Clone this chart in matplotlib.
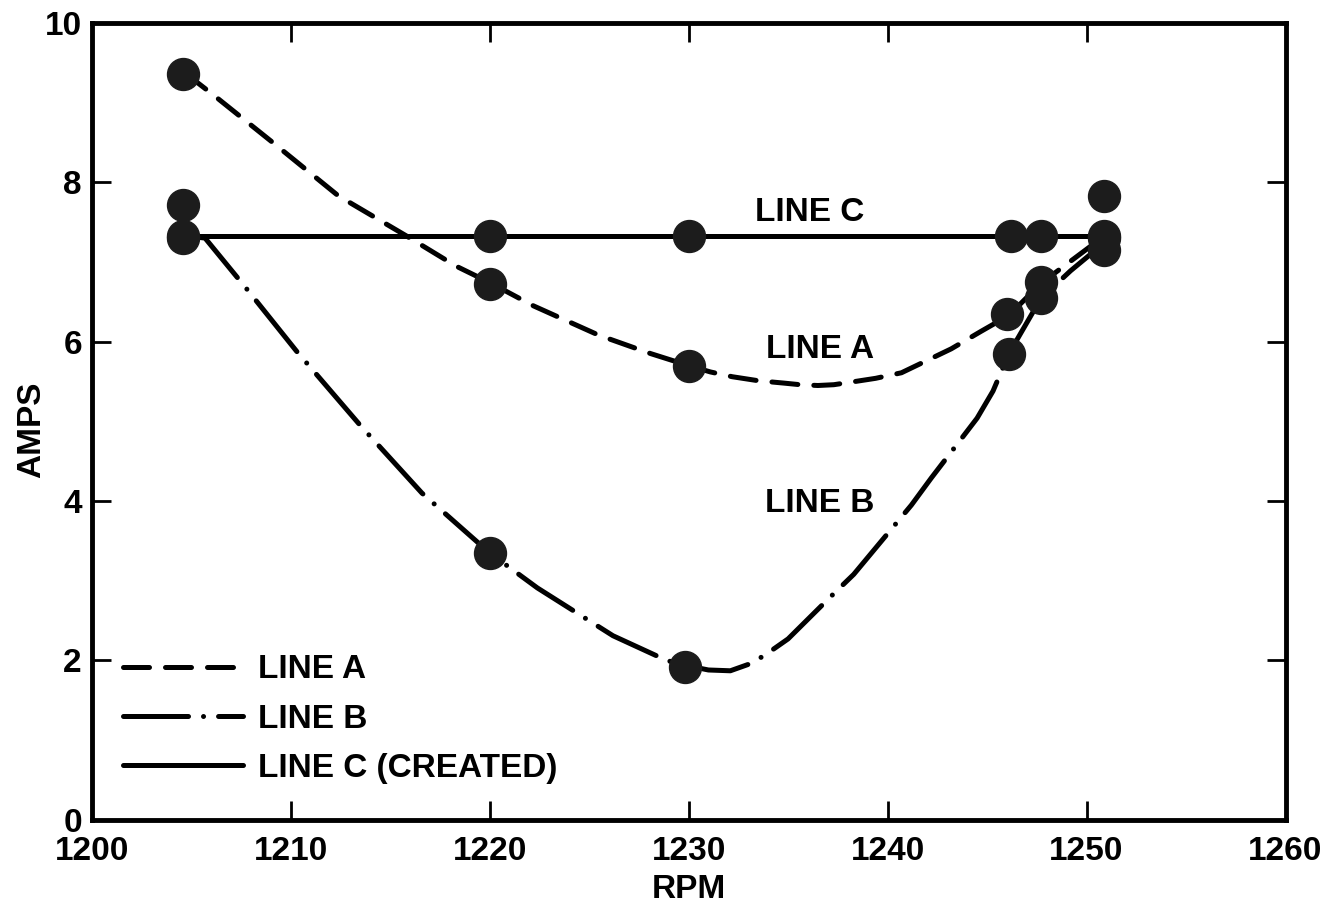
import matplotlib
matplotlib.use("Agg")
import matplotlib.pyplot as plt

plt.rcParams['font.family'] = ['Liberation Sans', 'DejaVu Sans']
plt.rcParams['font.weight'] = 'bold'
plt.rcParams['axes.labelweight'] = 'bold'

# measured points (markers)
a_rpm = [1204.6, 1220.0, 1230.0, 1246.0, 1247.7, 1250.9]
a_amps = [9.36, 6.72, 5.70, 6.35, 6.75, 7.30]
b_rpm = [1204.6, 1204.6, 1220.0, 1229.8, 1246.1, 1247.7, 1250.9, 1250.9]
b_amps = [7.30, 7.72, 3.35, 1.92, 5.85, 6.55, 7.15, 7.83]
c_rpm = [1204.6, 1220.0, 1230.0, 1246.2, 1247.7, 1250.9]
c_amps = [7.32, 7.32, 7.32, 7.32, 7.32, 7.32]

# hand drawn curves
a_curve_x = [1204.7, 1206.1, 1209.1, 1212.4, 1215.8, 1218.3, 1220.1, 1222.2,
             1225.5, 1228.1, 1230.0, 1231.1, 1232.2, 1233.5, 1234.8, 1235.6,
             1236.5, 1237.3, 1238.1, 1239.4, 1240.7, 1241.7, 1243.2, 1244.7,
             1246.1, 1247.7, 1249.2, 1250.7]
a_curve_y = [9.37, 9.10, 8.50, 7.83, 7.33, 6.95, 6.73, 6.45,
             6.08, 5.85, 5.70, 5.62, 5.56, 5.51, 5.48, 5.46,
             5.45, 5.46, 5.49, 5.54, 5.61, 5.73, 5.91, 6.13,
             6.33, 6.73, 7.01, 7.29]
b_curve_x = [1205.0, 1205.7, 1207.8, 1210.3, 1213.5, 1216.6, 1220.0, 1222.4,
             1226.2, 1228.9, 1229.8, 1231.0, 1232.1, 1233.0, 1233.8, 1235.0,
             1237.1, 1238.3, 1241.2, 1242.2, 1244.5, 1245.3, 1246.1, 1247.7,
             1249.2, 1250.7]
b_curve_y = [7.32, 7.30, 6.66, 5.88, 4.95, 4.10, 3.35, 2.91,
             2.31, 2.00, 1.94, 1.88, 1.87, 1.95, 2.06, 2.27,
             2.79, 3.08, 3.95, 4.29, 5.04, 5.38, 5.85, 6.54,
             6.89, 7.20]
c_curve_x = [1204.6, 1250.9]
c_curve_y = [7.32, 7.32]

x_ticks = [1200, 1210, 1220, 1230, 1240, 1250, 1260]
y_ticks = [0, 2, 4, 6, 8, 10]

fig = plt.figure(figsize=(13.28, 9.17), dpi=100)
ax = fig.add_axes([0.069, 0.106, 0.899, 0.869])

lw = 3.6
ax.plot(a_curve_x, a_curve_y, color='black', lw=lw, dash_capstyle='round',
        linestyle=(0, (5.2, 3.2)), label='LINE A')
ax.plot(b_curve_x, b_curve_y, color='black', lw=lw, dash_capstyle='round',
        linestyle=(0, (13.0, 3.0, 0.01, 3.0)), label='LINE B')
ax.plot(c_curve_x, c_curve_y, color='black', lw=lw, solid_capstyle='round',
        label='LINE C (CREATED)')

for xs, ys in [(a_rpm, a_amps), (b_rpm, b_amps), (c_rpm, c_amps)]:
    ax.plot(xs, ys, 'o', ms=23, color='#1c1c1c', zorder=3)

ax.text(1236.1, 7.62, 'LINE C', fontsize=24, ha='center', va='center')
ax.text(1236.6, 5.9, 'LINE A', fontsize=24, ha='center', va='center')
ax.text(1236.6, 3.97, 'LINE B', fontsize=24, ha='center', va='center')

ax.set_xlim(1200, 1260)
ax.set_ylim(0, 10)
ax.set_xticks(x_ticks)
ax.set_yticks(y_ticks)
ax.tick_params(direction='in', length=14, width=2, labelsize=24,
               top=True, right=True)
ax.tick_params(axis='x', pad=12)
ax.tick_params(axis='y', pad=7)
for s in ax.spines.values():
    s.set_linewidth(3.5)

ax.set_xlabel('RPM', fontsize=24)
ax.set_ylabel('AMPS', fontsize=24)
ax.xaxis.set_label_coords(0.5, -0.068)
ax.yaxis.set_label_coords(-0.037, 0.49)

ax.legend(loc='lower left', bbox_to_anchor=(0.026, 0.045), frameon=False,
          fontsize=24, handlelength=3.6, handletextpad=0.45, labelspacing=0.55,
          borderpad=0, borderaxespad=0)

plt.savefig('out.png', dpi=100)
